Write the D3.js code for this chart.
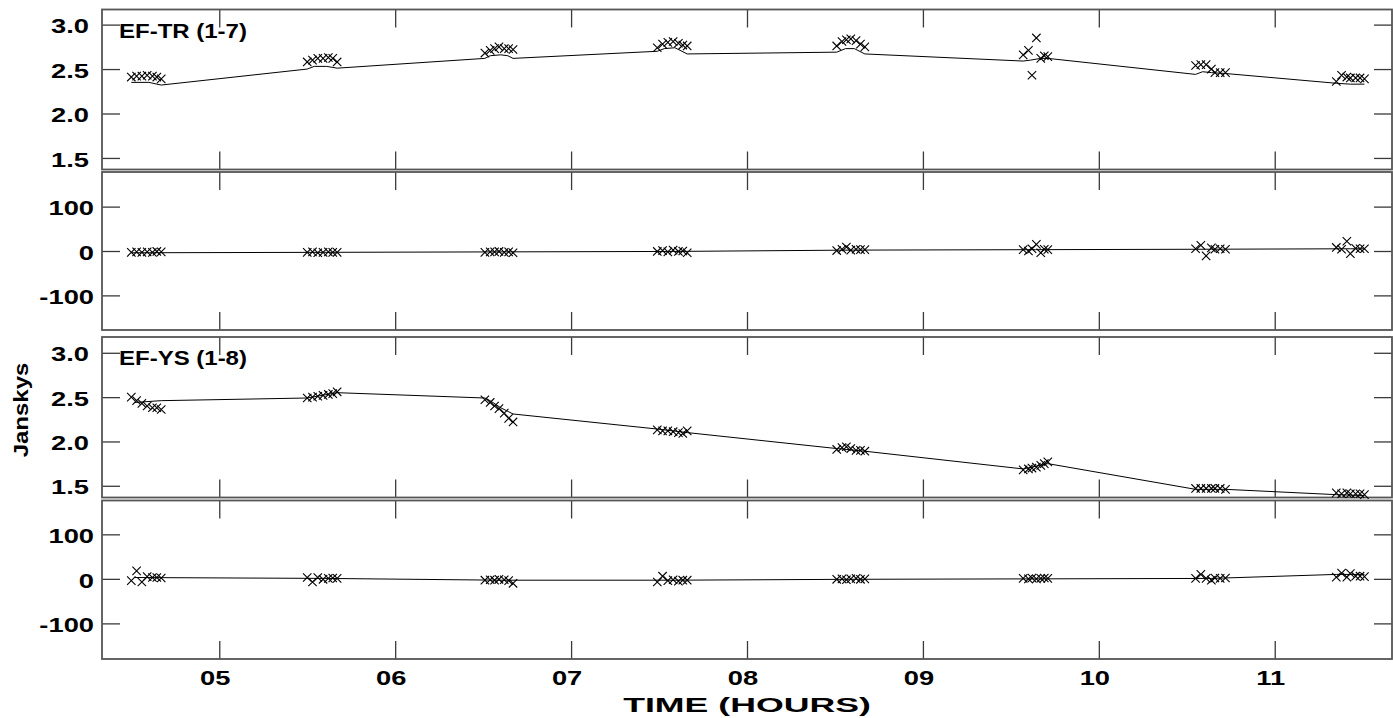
<!DOCTYPE html>
<html>
<head>
<meta charset="utf-8">
<script src="https://cdn.jsdelivr.net/npm/d3@7"></script>
<style>
  body { margin: 0; background: #fff; }
  svg text { font-family: "Liberation Sans", Arial, sans-serif; font-weight: bold; font-size: 20px; fill: #000; }
  svg text.tick-label { font-size: 21px; }
  svg text.x-title { font-size: 21px; }
</style>
</head>
<body>
<svg id="chart" width="1393" height="718"></svg>
<script>
// sample times (hours), 7 per scan, shared by every panel
const scanTimes = [
  4.50, 4.53, 4.56, 4.59, 4.62, 4.645, 4.67,
  5.50, 5.53, 5.56, 5.59, 5.62, 5.645, 5.67,
  6.51, 6.54, 6.565, 6.59, 6.62, 6.645, 6.67,
  7.49, 7.52, 7.55, 7.58, 7.61, 7.635, 7.66,
  8.51, 8.54, 8.565, 8.59, 8.62, 8.645, 8.67,
  9.57, 9.60, 9.62, 9.645, 9.67, 9.69, 9.71,
  10.55, 10.58, 10.61, 10.64, 10.66, 10.69, 10.72,
  11.35, 11.38, 11.41, 11.43, 11.46, 11.485, 11.51
];

// EF-TR amplitude (Jy) and phase (deg)
const trAmp = [
  2.41, 2.42, 2.42, 2.43, 2.42, 2.41, 2.39,
  2.58, 2.60, 2.62, 2.62, 2.63, 2.62, 2.58,
  2.68, 2.71, 2.73, 2.75, 2.73, 2.73, 2.72,
  2.74, 2.78, 2.80, 2.81, 2.79, 2.77, 2.76,
  2.76, 2.81, 2.83, 2.84, 2.82, 2.78, 2.75,
  2.66, 2.71, 2.43, 2.85, 2.62, 2.65, 2.64,
  2.54, 2.55, 2.55, 2.50, 2.46, 2.46, 2.46,
  2.36, 2.43, 2.41, 2.40, 2.40, 2.40, 2.39
];
const trPhase = [
  -3, -2, -3, -2, -3, -1, -2,
  -3, -2, -4, -3, -2, -3, -3,
  -3, -2, -2, -1, -3, -2, -4,
  -1, 1, -2, 2, -1, 0, -4,
  1, 4, 9, 2, 4, 3, 3,
  3, 0, 5, 15, -4, 4, 3,
  5, 13, -11, 7, 4, 5, 4,
  8, 4, 22, -6, 6, 5, 5
];

// EF-YS amplitude (Jy) and phase (deg)
const ysAmp = [
  2.50, 2.46, 2.43, 2.40, 2.38, 2.38, 2.36,
  2.49, 2.50, 2.51, 2.52, 2.53, 2.54, 2.56,
  2.47, 2.44, 2.40, 2.37, 2.32, 2.26, 2.22,
  2.13, 2.12, 2.12, 2.11, 2.10, 2.09, 2.12,
  1.91, 1.93, 1.94, 1.92, 1.90, 1.90, 1.89,
  1.68, 1.69, 1.70, 1.71, 1.73, 1.75, 1.77,
  1.47, 1.47, 1.47, 1.47, 1.47, 1.47, 1.46,
  1.42, 1.41, 1.42, 1.41, 1.41, 1.41, 1.40
];
const ysPhase = [
  -4, 18, -7, 5, 3, 3, 2,
  3, -7, 3, -1, 1, 2, 1,
  -3, -2, -3, -1, -2, -4, -10,
  -7, 6, -4, -2, -5, -3, -3,
  -1, 0, -2, 0, 1, -1, 0,
  1, 0, 2, 0, 1, 2, 1,
  1, 10, 1, -3, 2, 1, 2,
  4, 13, 4, 12, 6, 6, 5
];

// model curves [time, value]
const trAmpModel = [
  [4.50, 2.35], [4.60, 2.35], [4.67, 2.32],
  [5.50, 2.50], [5.54, 2.53], [5.61, 2.53], [5.67, 2.51],
  [6.51, 2.62], [6.54, 2.65], [6.60, 2.66], [6.64, 2.65], [6.67, 2.62],
  [7.49, 2.70], [7.53, 2.73], [7.59, 2.74], [7.66, 2.67],
  [8.51, 2.69], [8.56, 2.73], [8.61, 2.73], [8.67, 2.67],
  [9.57, 2.59], [9.61, 2.60], [9.67, 2.62], [9.71, 2.62],
  [10.55, 2.44], [10.59, 2.47], [10.64, 2.46], [10.72, 2.45],
  [11.35, 2.34], [11.43, 2.33], [11.51, 2.33]
];
const trPhaseModel = [
  [4.50, -4], [5.60, -3], [6.60, -2], [7.58, -1], [8.59, 2],
  [9.64, 3], [10.64, 4], [11.43, 5], [11.51, 5]
];
const ysAmpModel = [
  [4.52, 2.44], [4.67, 2.46], [5.50, 2.49], [5.67, 2.55],
  [6.51, 2.49], [6.54, 2.46], [6.60, 2.38], [6.67, 2.31],
  [7.49, 2.14], [7.66, 2.10], [8.51, 1.92], [8.67, 1.89],
  [9.57, 1.69], [9.71, 1.75], [10.55, 1.46], [10.72, 1.46],
  [11.35, 1.40], [11.51, 1.39]
];
const ysPhaseModel = [
  [4.52, 3], [5.60, 1], [6.60, -3], [7.58, -3], [8.59, -1],
  [9.64, 0], [10.64, 1], [11.35, 10], [11.51, 10]
];

const hourTicks = [5, 6, 7, 8, 9, 10, 11];
const hourLabels = ["05", "06", "07", "08", "09", "10", "11"];
const ampTicks = [1.5, 2.0, 2.5, 3.0];
const ampLabels = ["1.5", "2.0", "2.5", "3.0"];
const phaseTicks = [-100, 0, 100];
const phaseLabels = ["-100", "0", "100"];

const svg = d3.select("#chart");
const left = 102;
const right = 1392;
const tickLen = 18;
const stretch = 1.2; // glyphs in the plot are wider than Arial
const tickStretch = 1.3;

const x = d3.scaleLinear().domain([4 + 20 / 60, 11 + 40 / 60]).range([left, right]);

const panels = [
  { top: 9.5, bottom: 169.5, domain: [1.37, 3.17], ticks: ampTicks, labels: ampLabels,
    values: trAmp, model: trAmpModel, name: "EF-TR (1-7)", labelX: 89 },
  { top: 172, bottom: 330, domain: [-178, 178], ticks: phaseTicks, labels: phaseLabels,
    values: trPhase, model: trPhaseModel, labelX: 94 },
  { top: 337, bottom: 497.5, domain: [1.368, 3.178], ticks: ampTicks, labels: ampLabels,
    values: ysAmp, model: ysAmpModel, name: "EF-YS (1-8)", labelX: 89 },
  { top: 500.5, bottom: 659, domain: [-180, 176], ticks: phaseTicks, labels: phaseLabels,
    values: ysPhase, model: ysPhaseModel, labelX: 94 }
];

const cross = "M-4.2,-4.2L4.2,4.2M-4.2,4.2L4.2,-4.2";

panels.forEach((p, i) => {
  const y = d3.scaleLinear().domain(p.domain).range([p.bottom, p.top]);
  const g = svg.append("g");

  // ticks on all four sides, pointing inwards
  const axes = [
    [d3.axisTop(x).tickValues(hourTicks), `translate(0,${p.top})`],
    [d3.axisBottom(x).tickValues(hourTicks), `translate(0,${p.bottom})`],
    [d3.axisLeft(y).tickValues(p.ticks), `translate(${left},0)`],
    [d3.axisRight(y).tickValues(p.ticks), `translate(${right},0)`]
  ];
  axes.forEach(([axis, tr]) => {
    const a = g.append("g")
      .attr("transform", tr)
      .call(axis.tickSizeInner(-tickLen).tickSizeOuter(0).tickFormat(""));
    a.select(".domain").remove();
    a.selectAll("line").attr("stroke", "#3a3a3a").attr("stroke-width", 1.3);
  });

  // frame
  g.append("rect")
    .attr("x", x.range()[0])
    .attr("y", y.range()[1])
    .attr("width", x.range()[1] - x.range()[0])
    .attr("height", y.range()[0] - y.range()[1])
    .attr("fill", "none")
    .attr("stroke", "#555")
    .attr("stroke-width", 1.8);

  // y tick labels
  g.selectAll(".ylab")
    .data(p.ticks)
    .enter()
    .append("text")
    .attr("class", "ylab tick-label")
    .attr("text-anchor", "end")
    .attr("transform", (d) => `translate(${p.labelX},${y(d) + 8.7}) scale(${tickStretch},1)`)
    .text((d, k) => p.labels[k]);

  // model curve
  g.append("path")
    .datum(p.model)
    .attr("fill", "none")
    .attr("stroke", "#000")
    .attr("stroke-width", 1)
    .attr("d", d3.line().x((d) => x(d[0])).y((d) => y(d[1])));

  // measured points
  g.selectAll(".pt")
    .data(p.values)
    .enter()
    .append("path")
    .attr("class", "pt")
    .attr("d", cross)
    .attr("fill", "none")
    .attr("stroke", "#000")
    .attr("stroke-width", 1.1)
    .attr("transform", (d, k) => `translate(${x(scanTimes[k])},${y(d)})`);

  if (p.name) {
    g.append("text")
      .attr("transform", `translate(119,${p.top + 28})  scale(${stretch},1)`)
      .text(p.name);
  }

  if (i === panels.length - 1) {
    g.selectAll(".xlab")
      .data(hourTicks)
      .enter()
      .append("text")
      .attr("class", "xlab tick-label")
      .attr("text-anchor", "middle")
      .attr("transform", (d) => `translate(${x(d) - 4},${p.bottom + 26}) scale(${tickStretch},1)`)
      .text((d, k) => hourLabels[k]);
  }
});

svg.append("text")
  .attr("class", "x-title")
  .attr("text-anchor", "middle")
  .attr("transform", `translate(${(left + right) / 2},712) scale(1.7,1)`)
  .text("TIME (HOURS)");

svg.append("text")
  .attr("text-anchor", "middle")
  .attr("transform", `translate(28,410) rotate(-90) scale(${stretch},1)`)
  .text("Janskys");
</script>
</body>
</html>
